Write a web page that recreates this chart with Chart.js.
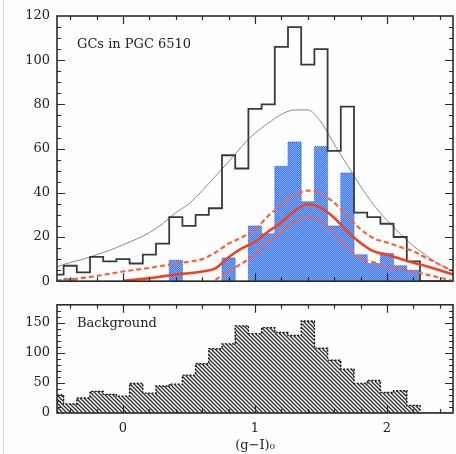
<!DOCTYPE html>
<html>
<head>
<meta charset="utf-8">
<script src="https://cdn.jsdelivr.net/npm/chart.js@4.4.1/dist/chart.umd.min.js"></script>
<style>
  html, body { margin: 0; padding: 0; background: #ffffff; }
  #wrap { position: relative; width: 456px; height: 454px; overflow: hidden; background: #fdfefe; }
  #edge { position: absolute; left: 3px; top: 0; width: 1px; height: 454px; background: #e6dccb; }
  #top { position: absolute; left: 0; top: 0; }
  #bot { position: absolute; left: 0; top: 290px; }
</style>
</head>
<body>
<div id="wrap">
  <div id="edge"></div>
  <canvas id="top" width="456" height="296"></canvas>
  <canvas id="bot" width="456" height="164"></canvas>
</div>
<script>
// ---------------- DATA ----------------
const binCenters = [-0.5,-0.4,-0.3,-0.2,-0.1,0.0,0.1,0.2,0.3,0.4,0.5,0.6,0.7,0.8,0.9,1.0,
                    1.1,1.2,1.3,1.4,1.5,1.6,1.7,1.8,1.9,2.0,2.1,2.2,2.3,2.4,2.5];
const binWidth = 0.1;

// GCs in PGC 6510: total counts (black step histogram)
const gcTotal = [3,7,4,11,9,10,8,12,17,29,25,30,33,57,51,78,
                 80,106,115,98,105,59,79,31,29,26,20,9,0,0,0];
// background-subtracted GC counts (blue bars)
const gcCorrected = [0,1.2,0,0,0,0,0,0,0,9.5,0,0,0,10.5,0,25,
                     21.5,52,63,36,61,25,49,12,8,12.5,7,5,0,0,0];
// smooth total model (thin grey curve)
const totalModel = [6.5,8.5,10,12,14,16.5,19,22,26,31,35,41,47.5,54,61,67,
                    71.5,75.5,77.5,77.5,72,62,52.5,43,34.5,27.5,21.5,16,11.5,7.5,4.5];
// GC model (red solid) and its upper / lower bounds (red dashed)
const gcModel = [null,null,null,null,null,0.2,0.8,1.4,2.2,3.0,3.6,4.4,5.8,10.8,14.8,17.8,
                 22.5,26.5,31.8,34.8,33.2,28.7,22.5,17.3,13.5,12,10.2,8.3,6.8,5,3];
const gcUpper = [0.3,0.8,1.5,2.4,3.3,4.4,5.2,6,7,8,8.8,10,13,17,19.8,23.5,
                 29.5,34.5,39,41,39.5,35.5,29.5,23.5,19.4,17.5,15.5,13.5,10.5,7.5,4.7];
const gcLower = [null,null,null,null,null,null,null,null,null,null,null,null,0.6,4.5,8,12,
                 18,22.3,27,29,27,21.5,15.3,10.5,8.5,6.5,5.5,4.4,3,1.6,0];
// Background counts (bottom panel)
const bgCounts = [30,15,25,36,31,28,49,33,45,48,63,82,107,115,145,132,
                  142,134,129,153,108,88,73,49,54,34,37,12.5,0,0,0];

const xTickLabels = [0, 1, 2];
const yTicksTop = [0, 20, 40, 60, 80, 100, 120];
const yTicksBottom = [0, 50, 100, 150];
const topLabel = 'GCs in PGC 6510';
const bottomLabel = 'Background';
const xTitle = '(g\u2212I)\u2080';

// ---------------- helpers ----------------
function stepPoints(centers, values, w) {
  const pts = [{x: centers[0] - w / 2, y: 0}];
  centers.forEach((c, i) => {
    pts.push({x: c - w / 2, y: values[i]});
    pts.push({x: c + w / 2, y: values[i]});
  });
  pts.push({x: centers[centers.length - 1] + w / 2, y: 0});
  return pts;
}
function curvePoints(centers, values) {
  const pts = [];
  centers.forEach((c, i) => { if (values[i] !== null) pts.push({x: c, y: values[i]}); });
  return pts;
}
function makePattern(size, drawFn) {
  const c = document.createElement('canvas');
  c.width = size; c.height = size;
  const g = c.getContext('2d');
  drawFn(g, size);
  return document.getElementById('top').getContext('2d').createPattern(c, 'repeat');
}
const bluePattern = makePattern(2, (g) => {
  g.fillStyle = 'rgb(72,124,238)'; g.fillRect(0, 0, 2, 2);
  g.fillStyle = 'rgb(122,166,248)'; g.fillRect(0, 0, 1, 1); g.fillRect(1, 1, 1, 1);
});
const hatchPattern = makePattern(4, (g, s) => {
  g.fillStyle = '#ffffff'; g.fillRect(0, 0, s, s);
  g.strokeStyle = '#2a2a2a'; g.lineWidth = 1.25;
  for (let k = -1; k <= 1; k++) {
    g.beginPath(); g.moveTo(k * s - 1, -1); g.lineTo(k * s + s + 1, s + 1); g.stroke();
  }
});

const FONT = {family: '"DejaVu Serif", "Liberation Serif", serif', size: 13};
const INK = '#2b2b2b';

// frame + inward ticks on all four sides
const framePlugin = {
  id: 'frame',
  afterDatasetsDraw(chart, args, o) {
    const {ctx, chartArea: a, scales: {x, y}} = chart;
    ctx.save();
    ctx.strokeStyle = INK;
    ctx.lineWidth = 1.2;
    for (let k = -2; k <= 12; k++) {
      const v = k * 0.2;
      const px = Math.round(x.getPixelForValue(v)) + 0.5;
      const len = (k % 5 === 0) ? 8 : 4;
      ctx.beginPath();
      ctx.moveTo(px, a.bottom); ctx.lineTo(px, a.bottom - len);
      ctx.moveTo(px, a.top); ctx.lineTo(px, a.top + len);
      ctx.stroke();
    }
    for (let v = o.yMinor; v < y.max; v += o.yMinor) {
      const py = Math.round(y.getPixelForValue(v)) + 0.5;
      const len = (v % o.yMajor === 0) ? 8 : 4;
      ctx.beginPath();
      ctx.moveTo(a.left, py); ctx.lineTo(a.left + len, py);
      ctx.moveTo(a.right, py); ctx.lineTo(a.right - len, py);
      ctx.stroke();
    }
    ctx.lineWidth = 1.6;
    ctx.strokeRect(a.left, a.top, a.right - a.left, a.bottom - a.top);
    ctx.fillStyle = '#222';
    ctx.font = '13px "DejaVu Serif", "Liberation Serif", serif';
    ctx.textBaseline = 'middle';
    ctx.textAlign = 'left';
    ctx.fillText(o.label, a.left + 20, a.top + o.labelDy);
    ctx.restore();
  }
};

function yAxis(min, max, ticksArr, width) {
  return {
    type: 'linear', min, max,
    afterFit: (s) => { s.width = width; },
    afterBuildTicks: (s) => { s.ticks = ticksArr.map(v => ({value: v})); },
    grid: {display: false, drawTicks: false},
    border: {display: false},
    ticks: {font: FONT, color: '#222', padding: 7}
  };
}

// ---------------- top panel ----------------
new Chart(document.getElementById('top'), {
  type: 'line',
  data: {
    datasets: [
      { data: curvePoints(binCenters, gcModel), borderColor: 'rgb(240,66,28)', borderWidth: 2.6,
        cubicInterpolationMode: 'monotone', order: 0 },
      { data: curvePoints(binCenters, gcUpper), borderColor: 'rgb(246,98,62)', borderWidth: 2.2,
        borderDash: [5, 3], cubicInterpolationMode: 'monotone', order: 1 },
      { data: curvePoints(binCenters, gcLower), borderColor: 'rgb(246,98,62)', borderWidth: 2.2,
        borderDash: [5, 3], cubicInterpolationMode: 'monotone', order: 2 },
      { data: stepPoints(binCenters, gcTotal, binWidth), borderColor: '#3a3a3a', borderWidth: 1.8,
        tension: 0, order: 3 },
      { data: curvePoints(binCenters, totalModel), borderColor: '#8a8a8a', borderWidth: 1,
        cubicInterpolationMode: 'monotone', order: 4 },
      { data: stepPoints(binCenters, gcCorrected, binWidth), borderColor: 'rgb(40,96,232)', borderWidth: 1,
        borderDash: [1, 1], backgroundColor: bluePattern, fill: 'origin', tension: 0, order: 5 }
    ]
  },
  options: {
    responsive: false, animation: false, devicePixelRatio: 1,
    layout: {padding: {top: 16, right: 3, bottom: 2, left: 0}},
    elements: {point: {radius: 0, hoverRadius: 0}},
    plugins: {
      legend: {display: false}, tooltip: {enabled: false},
      frame: {yMinor: 5, yMajor: 20, label: topLabel, labelDy: 29}
    },
    scales: {
      x: {type: 'linear', min: -0.5, max: 2.5, display: false},
      y: yAxis(0, 120, yTicksTop, 57)
    }
  },
  plugins: [framePlugin]
});

// ---------------- bottom panel ----------------
new Chart(document.getElementById('bot'), {
  type: 'line',
  data: {
    datasets: [
      { data: stepPoints(binCenters, bgCounts, binWidth), borderColor: '#111', borderWidth: 1.4,
        borderDash: [2, 1.5], backgroundColor: hatchPattern, fill: 'origin', tension: 0 }
    ]
  },
  options: {
    responsive: false, animation: false, devicePixelRatio: 1,
    layout: {padding: {top: 4, right: 3, bottom: 1, left: 0}},
    elements: {point: {radius: 0, hoverRadius: 0}},
    plugins: {
      legend: {display: false}, tooltip: {enabled: false},
      frame: {yMinor: 10, yMajor: 50, label: bottomLabel, labelDy: 19}
    },
    scales: {
      x: {
        type: 'linear', min: -0.5, max: 2.5,
        afterFit: (s) => { s.height = 40; },
        afterBuildTicks: (s) => { s.ticks = xTickLabels.map(v => ({value: v})); },
        grid: {display: false, drawTicks: false},
        border: {display: false},
        ticks: {font: FONT, color: '#222', padding: 8, maxRotation: 0},
        title: {display: true, text: xTitle, font: FONT, color: '#222', padding: {top: 0, bottom: 0}}
      },
      y: yAxis(0, 180, yTicksBottom, 57)
    }
  },
  plugins: [framePlugin]
});
</script>
</body>
</html>
